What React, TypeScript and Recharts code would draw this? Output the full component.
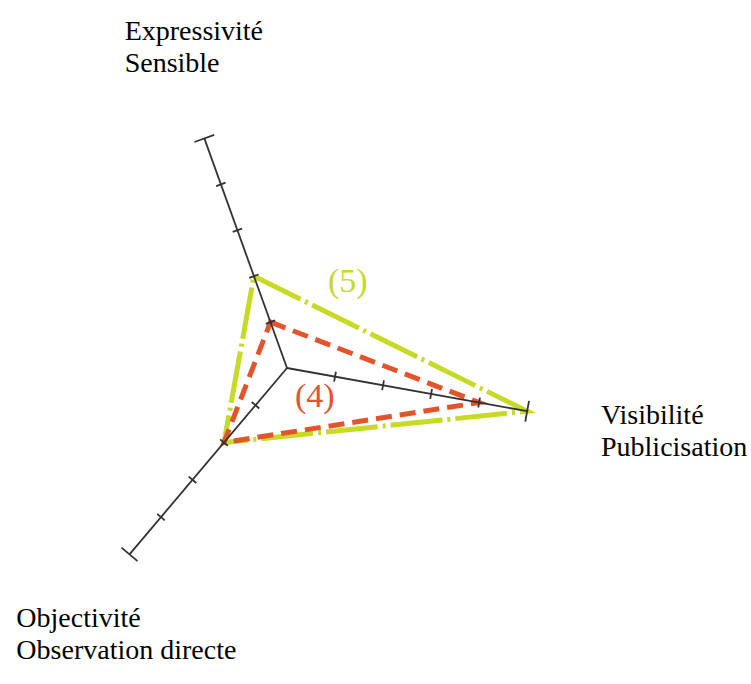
import React from 'react';
import { RadarChart, Radar, PolarAngleAxis, PolarRadiusAxis } from 'recharts';

const categories = ['Expressivité|Sensible', 'Visibilité|Publicisation', 'Objectivité|Observation directe'];
const series5 = [2, 5, 2];
const series4 = [1, 4, 2];
const tickValues = [0, 1, 2, 3, 4, 5];

const data = categories.map((c, i) => ({ axis: c, s5: series5[i], s4: series4[i] }));

const START = 109.8;
const axisAngles = [START, START - 120, START - 240];
const labelOffsets = [
  { dx: -77, dy: -91 },
  { dx: 66, dy: 11 },
  { dx: -108, dy: 67 },
];

const FONT = 'Liberation Serif';
const AXIS_COLOR = '#333333';
const YELLOW = '#c6da26';
const RED = '#e2552c';

const makeTick = (angleDeg: number) => (props: any) => {
  const { x, y, payload } = props;
  const v = Number(payload?.value);
  if (!v) return <g />;
  const a = (angleDeg * Math.PI) / 180;
  const px = Math.sin(a);
  const py = Math.cos(a);
  const half = v === 5 ? 10.5 : 5;
  return (
    <line
      x1={x - px * half}
      y1={y - py * half}
      x2={x + px * half}
      y2={y + py * half}
      stroke={AXIS_COLOR}
      strokeWidth={1.8}
    />
  );
};

const AngleTick = (props: any) => {
  const { x, y, payload, index } = props;
  const off = labelOffsets[index] || { dx: 0, dy: 0 };
  const lines = String(payload.value).split('|');
  return (
    <text x={x + off.dx} y={y + off.dy} style={{ fontFamily: FONT }} fontSize={28} fill="#000" textAnchor="start">
      {lines.map((l, i) => (
        <tspan key={i} x={x + off.dx} dy={i === 0 ? 0 : 32}>
          {l}
        </tspan>
      ))}
    </text>
  );
};

const makeSeriesLabel = (text: string, color: string, dx: number, dy: number) => (props: any) => {
  const { x, y, index } = props;
  if (index !== 0) return <g />;
  return (
    <text x={x + dx} y={y + dy} style={{ fontFamily: FONT }} fontSize={34} fill={color} textAnchor="start">
      {text}
    </text>
  );
};

export default function App() {
  return (
    <div style={{ position: 'absolute', left: 0, top: 0, width: 751, height: 684, background: '#fff' }}>
      <RadarChart
        width={751}
        height={684}
        data={data}
        cx={287}
        cy={368}
        outerRadius={244}
        startAngle={START}
        endAngle={START - 360}
        margin={{ top: 0, right: 0, bottom: 0, left: 0 }}
      >
        <PolarAngleAxis dataKey="axis" axisLine={false} tickLine={false} tick={AngleTick} />
        {axisAngles.map((ang, i) => (
          <PolarRadiusAxis
            key={i}
            radiusAxisId={i}
            angle={ang}
            domain={[0, 5]}
            type="number"
            ticks={tickValues}
            tickCount={6}
            axisLine={{ stroke: AXIS_COLOR, strokeWidth: 1.8 }}
            tick={makeTick(ang)}
          />
        ))}
        <Radar
          radiusAxisId={1}
          dataKey="s5"
          stroke="none"
          fill="none"
          fillOpacity={0}
          dot={false}
          legendType="none"
          isAnimationActive={false}
        />
        <Radar
          radiusAxisId={2}
          dataKey="s5"
          stroke="none"
          fill="none"
          fillOpacity={0}
          dot={false}
          legendType="none"
          isAnimationActive={false}
        />
        <Radar
          radiusAxisId={0}
          dataKey="s5"
          stroke={YELLOW}
          strokeWidth={5}
          strokeDasharray="52 5 3 5"
          fill="none"
          fillOpacity={0}
          dot={false}
          isAnimationActive={false}
          label={makeSeriesLabel('(5)', YELLOW, 74, 16)}
        />
        <Radar
          radiusAxisId={0}
          dataKey="s4"
          stroke={RED}
          strokeWidth={5}
          strokeDasharray="16 8"
          fill="none"
          fillOpacity={0}
          dot={false}
          isAnimationActive={false}
          label={makeSeriesLabel('(4)', RED, 24.5, 85)}
        />
      </RadarChart>
    </div>
  );
}
